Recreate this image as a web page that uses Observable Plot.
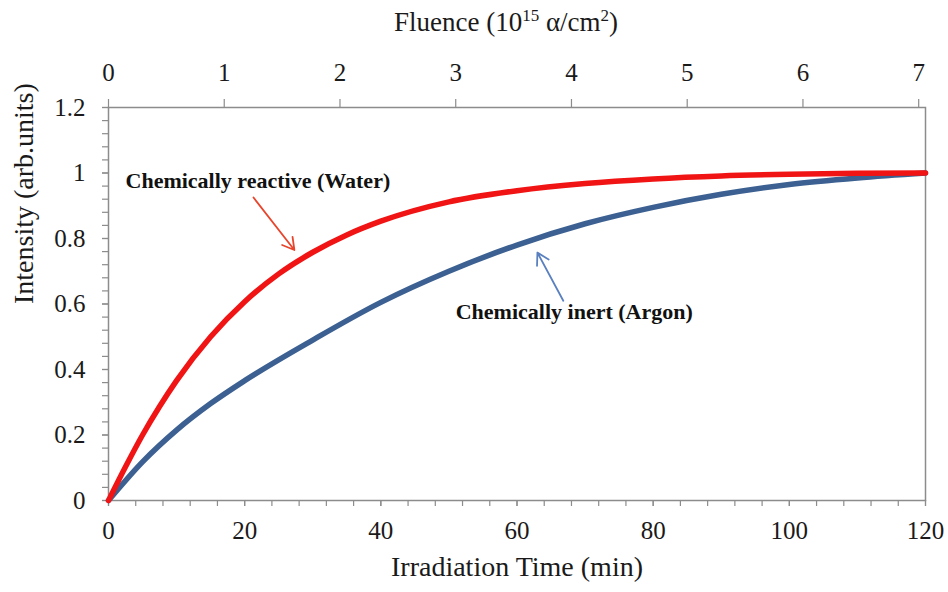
<!DOCTYPE html>
<html>
<head>
<meta charset="utf-8">
<script src="https://cdn.jsdelivr.net/npm/d3@7"></script>
<script src="https://cdn.jsdelivr.net/npm/@observablehq/plot@0.6"></script>
<style>
  html, body { margin: 0; padding: 0; background: #fff; }
  #chart svg { display: block; }
</style>
</head>
<body>
<div id="chart"></div>
<script>
// ---- data ----
const timeWater = [0, 2.5, 5, 7.5, 10, 15, 20, 25, 30, 35, 40, 50, 60, 70, 80, 90, 100, 110, 120];
const intensityWater = [0, 0.103, 0.2, 0.287, 0.366, 0.5, 0.607, 0.692, 0.758, 0.811, 0.853, 0.912, 0.946, 0.968, 0.982, 0.991, 0.996, 0.999, 1.0];
const timeArgon = [0, 5, 10, 15, 20, 30, 40, 50, 60, 70, 80, 90, 100, 110, 120];
const intensityArgon = [0, 0.118, 0.215, 0.296, 0.366, 0.49, 0.605, 0.7, 0.78, 0.845, 0.895, 0.935, 0.965, 0.985, 1.0];
const xTicks = [0, 20, 40, 60, 80, 100, 120];
const xMinorTicks = d3.range(0, 121, 4);
const yTicks = [0, 0.2, 0.4, 0.6, 0.8, 1, 1.2];
const yMinorTicks = d3.range(0, 31).map(i => i * 0.04);
const fluenceTicks = [0, 1, 2, 3, 4, 5, 6, 7];
const minutesPerFluence = 17.0;
const labels = ["Chemically reactive (Water)", "Chemically inert (Argon)"];
const labelX = [2.5, 51];
const labelY = [0.975, 0.575];
const arrowX1 = [21.3, 66.8], arrowY1 = [0.925, 0.61];
const arrowX2 = [27.3, 63.0], arrowY2 = [0.765, 0.757];

const waterData = timeWater.map((t, i) => ({t, v: intensityWater[i]}));
const argonData = timeArgon.map((t, i) => ({t, v: intensityArgon[i]}));
const annData = labels.map((s, i) => ({s, x: labelX[i], y: labelY[i]}));
const arrowData = labels.map((s, i) => ({x1: arrowX1[i], y1: arrowY1[i], x2: arrowX2[i], y2: arrowY2[i], c: i === 0 ? "#e8452c" : "#5a80c0"}));

const FONT = "'Liberation Serif', 'Times New Roman', serif";
const AX = "#8c8c8c";
const TXT = "#1a1a1a";

const plot = Plot.plot({
  width: 948,
  height: 592,
  marginLeft: 108,
  marginRight: 23,
  marginTop: 107,
  marginBottom: 92,
  style: {fontFamily: FONT, background: "#fff", color: "#000"},
  x: {domain: [0, 120]},
  y: {domain: [0, 1.2]},
  marks: [
    Plot.frame({stroke: AX, strokeWidth: 1.5}),
    // minor ticks
    Plot.axisX({ticks: xMinorTicks, tickFormat: () => "", label: null, tickSize: 6, stroke: AX, strokeWidth: 1.2}),
    Plot.axisY({ticks: yMinorTicks, tickFormat: () => "", label: null, tickSize: 6, stroke: AX, strokeWidth: 1.2}),
    // major axes
    Plot.axisX({ticks: xTicks, tickFormat: d => String(d), label: null, tickSize: 6, tickPadding: 15, stroke: AX, strokeWidth: 1.2, fontSize: 25, fontFamily: FONT, fill: TXT}),
    Plot.axisY({ticks: yTicks, tickFormat: d => String(d), label: null, tickSize: 6, tickPadding: 17, stroke: AX, strokeWidth: 1.2, fontSize: 25, fontFamily: FONT, fill: TXT}),
    Plot.axisX({anchor: "top", ticks: fluenceTicks.map(f => f * minutesPerFluence), tickFormat: d => String(Math.round(d / minutesPerFluence)), label: null, tickSize: 9, tickPadding: 18, stroke: AX, strokeWidth: 1.2, fontSize: 25, fontFamily: FONT, fill: TXT}),
    // curves
    Plot.line(argonData, {x: "t", y: "v", stroke: "#3b6091", strokeWidth: 5.5, curve: "monotone-x"}),
    Plot.line(waterData, {x: "t", y: "v", stroke: "#f01414", strokeWidth: 5.5, curve: "monotone-x"}),
    // annotations
    Plot.arrow(arrowData, {x1: "x1", y1: "y1", x2: "x2", y2: "y2", stroke: "c", strokeWidth: 1.8, headLength: 11}),
    Plot.text(annData, {x: "x", y: "y", text: "s", textAnchor: "start", fontSize: 22, fontWeight: "bold", fontFamily: FONT, fill: "#111"}),
    // axis titles
    Plot.text(["Irradiation Time (min)"], {frameAnchor: "bottom", dy: 75, fontSize: 28, fontFamily: FONT, fill: TXT}),
    Plot.text(["Intensity (arb.units)"], {frameAnchor: "left", dx: -84, rotate: -90, fontSize: 28, fontFamily: FONT, fill: TXT})
  ]
});

document.getElementById("chart").appendChild(plot);

// top axis title with superscripts
const svg = d3.select(plot);
const t = svg.append("text")
  .attr("x", 506).attr("y", 31)
  .attr("text-anchor", "middle")
  .attr("font-family", FONT)
  .attr("font-size", 27)
  .attr("fill", TXT);
t.append("tspan").text("Fluence (10");
t.append("tspan").attr("font-size", 17).attr("dy", -10).text("15");
t.append("tspan").attr("dy", 10).text(" α/cm");
t.append("tspan").attr("font-size", 17).attr("dy", -10).text("2");
t.append("tspan").attr("dy", 10).text(")");
</script>
</body>
</html>
